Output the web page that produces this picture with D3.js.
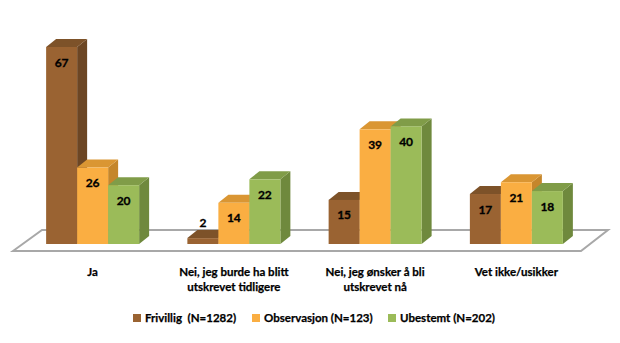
<!DOCTYPE html>
<html><head><meta charset="utf-8">
<script src="https://cdn.jsdelivr.net/npm/d3@7"></script>
<style>body{margin:0;background:#fff}svg{display:block}</style>
</head><body>
<svg id="c" width="620" height="343"></svg>
<script>
const categories = [["Ja"], ["Nei, jeg burde ha blitt", "utskrevet tidligere"], ["Nei, jeg ønsker å bli", "utskrevet nå"], ["Vet ikke/usikker"]];
const seriesNames = ["Frivillig  (N=1282)", "Observasjon (N=123)", "Ubestemt (N=202)"];
const frivillig = [67, 2, 15, 17];
const observasjon = [26, 14, 39, 21];
const ubestemt = [20, 22, 40, 18];
const seriesValues = [frivillig, observasjon, ubestemt];

const colors = [
  {front: "#9A6332", top: "#7D5229", side: "#6C4624"},
  {front: "#FAAE42", top: "#DA9633", side: "#C5862B"},
  {front: "#9BBB59", top: "#809C48", side: "#6F893D"}
];
const font = "Lato, 'Open Sans', sans-serif";
const svg = d3.select("#c");
const dx = 10, dy = 8;

const catKeys = categories.map((c, i) => i);
const x0 = d3.scaleBand().domain(catKeys).range([22, 587]).paddingInner(0.3416).paddingOuter(0.1708);
const x1 = d3.scaleBand().domain(d3.range(seriesNames.length)).range([0, x0.bandwidth()]);
const y = d3.scaleLinear().domain([0, 67]).range([244, 47]);

// floor
const floorPts = [[13, 251], [42, 230], [608, 230], [581, 251]];
svg.append("path").attr("d", d3.line()(floorPts) + "Z")
  .attr("fill", "#fff").attr("stroke", "#A8A8A8").attr("stroke-width", 2).attr("stroke-linejoin", "miter");

// bars
const g = svg.append("g");
catKeys.forEach(ci => {
  seriesValues.forEach((vals, si) => {
    const v = vals[ci];
    const xl = x0(ci) + x1(si), w = x1.bandwidth();
    const yt = y(v), yb = y(0);
    const c = colors[si];
    g.append("path").attr("d", d3.line()([[xl + w, yt], [xl + w + dx, yt - dy], [xl + w + dx, yb - dy], [xl + w, yb]]) + "Z")
      .attr("fill", c.side);
    g.append("path").attr("d", d3.line()([[xl, yt], [xl + dx, yt - dy], [xl + w + dx, yt - dy], [xl + w, yt]]) + "Z")
      .attr("fill", c.top);
    g.append("rect").attr("x", xl).attr("y", yt).attr("width", w).attr("height", yb - yt).attr("fill", c.front);
  });
});
// value labels
catKeys.forEach(ci => {
  seriesValues.forEach((vals, si) => {
    const v = vals[ci];
    const cx = x0(ci) + x1(si) + x1.bandwidth() / 2;
    const yt = y(v);
    const inside = (y(0) - yt) > 20;
    svg.append("text").attr("x", cx).attr("y", inside ? yt + 15 : yt - 16)
      .attr("text-anchor", "middle").attr("dominant-baseline", "central")
      .attr("font-family", font).attr("font-weight", "bold").attr("font-size", 12)
      .attr("fill", "#000").attr("stroke", "#000").attr("stroke-width", 0.3)
      .text(v);
  });
});
// category labels
catKeys.forEach(ci => {
  const t = svg.append("text").attr("x", x0(ci) + x0.bandwidth() / 2).attr("y", 276)
    .attr("text-anchor", "middle").attr("font-family", font).attr("font-weight", "bold")
    .attr("font-size", 11.5).attr("fill", "#000").attr("stroke", "#000").attr("stroke-width", 0.25);
  categories[ci].forEach((line, li) => {
    t.append("tspan").attr("x", x0(ci) + x0.bandwidth() / 2).attr("dy", li === 0 ? 0 : 15).text(line);
  });
});
// legend
const legX = [133, 252, 388];
seriesNames.forEach((n, si) => {
  svg.append("rect").attr("x", legX[si]).attr("y", 314).attr("width", 8).attr("height", 8).attr("fill", colors[si].front);
  svg.append("text").attr("x", legX[si] + 12).attr("y", 322).attr("font-family", font).attr("font-weight", "bold")
    .attr("font-size", 11.5).attr("fill", "#000").attr("stroke", "#000").attr("stroke-width", 0.25)
    .attr("xml:space", "preserve").text(n);
});
</script>
</body></html>
